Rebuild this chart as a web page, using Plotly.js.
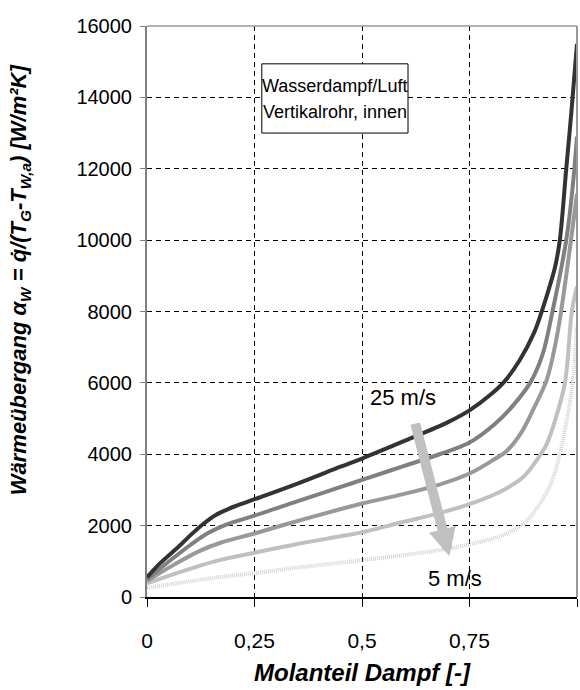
<!DOCTYPE html>
<html>
<head>
<meta charset="utf-8">
<script src="https://cdn.plot.ly/plotly-3.0.1.min.js"></script>
<style>html,body{margin:0;padding:0;background:#fff;}#chart{width:580px;height:690px;}</style>
</head>
<body>
<div id="chart"></div>
<script>
// Molanteil Dampf (x) and heat transfer coefficient (y) per gas velocity
const seriesNames = ['25 m/s', '20 m/s', '15 m/s', '10 m/s', '5 m/s'];

const x25 = [0, 0.03, 0.077, 0.1, 0.13, 0.16, 0.19, 0.22, 0.25, 0.35, 0.45, 0.5, 0.6, 0.7, 0.75, 0.8, 0.83, 0.867, 0.9, 0.918, 0.94, 0.95, 0.96, 0.975, 0.987, 1];
const y25 = [550, 940, 1450, 1720, 2040, 2300, 2470, 2610, 2740, 3180, 3650, 3880, 4380, 4900, 5230, 5680, 6020, 6640, 7400, 8000, 8850, 9300, 10000, 12000, 13600, 15500];

const x20 = [0, 0.062, 0.1, 0.14, 0.18, 0.22, 0.25, 0.347, 0.449, 0.5, 0.6, 0.68, 0.75, 0.809, 0.85, 0.891, 0.92, 0.943, 0.975, 0.99, 1];
const y20 = [500, 1100, 1450, 1780, 2010, 2170, 2280, 2670, 3080, 3280, 3680, 4000, 4330, 4850, 5350, 6000, 6800, 8000, 10000, 11500, 12900];

const x15 = [0, 0.062, 0.124, 0.171, 0.25, 0.347, 0.449, 0.5, 0.588, 0.68, 0.75, 0.8, 0.837, 0.87, 0.9, 0.93, 0.95, 0.963, 0.986, 1];
const y15 = [450, 900, 1300, 1520, 1780, 2120, 2460, 2620, 2860, 3150, 3460, 3800, 4100, 4600, 5300, 6100, 7100, 8000, 10000, 11300];

const x10 = [0, 0.062, 0.124, 0.171, 0.25, 0.347, 0.449, 0.5, 0.588, 0.68, 0.75, 0.82, 0.875, 0.91, 0.93, 0.949, 0.972, 0.988, 1];
const y10 = [380, 640, 880, 1040, 1240, 1480, 1700, 1810, 2080, 2350, 2600, 2940, 3360, 3900, 4300, 4950, 6000, 8000, 8700];

const x5 = [0, 0.062, 0.171, 0.25, 0.347, 0.449, 0.5, 0.6, 0.705, 0.75, 0.8, 0.837, 0.88, 0.914, 0.94, 0.96, 0.976, 0.99, 1];
const y5 = [250, 370, 560, 670, 820, 960, 1030, 1180, 1360, 1480, 1620, 1780, 2100, 2620, 3200, 4000, 4950, 6000, 7600];

const xTickVals = [0, 0.25, 0.5, 0.75, 1];
const xTickText = ['0', '0,25', '0,5', '0,75', '1'];
const yTickVals = [0, 2000, 4000, 6000, 8000, 10000, 12000, 14000, 16000];
const yTickText = ['0', '2000', '4000', '6000', '8000', '10000', '12000', '14000', '16000'];

const xs = [x25, x20, x15, x10, x5];
const ys = [y25, y20, y15, y10, y5];
const colors = ['#333333', '#808080', '#999999', '#c0c0c0', '#d4d4d4'];
const dashes = ['solid', 'solid', 'solid', 'solid', '1px,1px'];

const FONT = 'Liberation Sans, Arial, sans-serif';

const traces = xs.map((x, i) => ({
  x: x, y: ys[i], name: seriesNames[i], type: 'scatter', mode: 'lines',
  line: {color: colors[i], width: 4, shape: 'spline', smoothing: 1, dash: dashes[i]},
  hoverinfo: 'skip'
})).reverse();

const layout = {
  width: 580, height: 690,
  margin: {l: 147, r: 3, t: 26, b: 93},
  paper_bgcolor: '#ffffff', plot_bgcolor: '#ffffff',
  showlegend: false,
  font: {family: FONT, size: 20, color: '#000'},
  xaxis: {
    range: [0, 1], tickvals: xTickVals, ticktext: xTickText,
    showgrid: true, gridcolor: '#000', gridwidth: 1, griddash: '5px,4px',
    zeroline: false, showline: true, linecolor: '#000', linewidth: 2,
    ticks: 'outside', ticklen: 8, tickcolor: '#000', tickwidth: 1,
    ticklabelstandoff: 16,
    tickfont: {family: FONT, size: 21, color: '#000'}
  },
  yaxis: {
    range: [0, 16000], tickvals: yTickVals, ticktext: yTickText,
    showgrid: true, gridcolor: '#000', gridwidth: 1, griddash: '5px,4px',
    zeroline: false, showline: true, linecolor: '#808080', linewidth: 2,
    ticks: 'outside', ticklen: 5, tickcolor: '#808080', tickwidth: 1,
    ticklabelstandoff: 4,
    tickfont: {family: FONT, size: 20, color: '#000'}
  },
  shapes: [
    {type: 'line', xref: 'paper', yref: 'paper', x0: 0, x1: 1, y0: 1, y1: 1, line: {color: '#9a9a9a', width: 1.5}},
    {type: 'line', xref: 'paper', yref: 'paper', x0: 1, x1: 1, y0: 0, y1: 1, line: {color: '#9a9a9a', width: 2}},
    {type: 'rect', xref: 'x', yref: 'y', x0: 0.267, x1: 0.607, y0: 13000, y1: 14940, layer: 'above',
     fillcolor: '#ffffff', line: {color: '#000', width: 1}}
  ],
  annotations: [
    {xref: 'x', yref: 'y', x: 0.437, y: 14330, text: 'Wasserdampf/Luft', showarrow: false,
     font: {family: FONT, size: 18, color: '#000'}, xanchor: 'center', yanchor: 'middle'},
    {xref: 'x', yref: 'y', x: 0.437, y: 13600, text: 'Vertikalrohr, innen', showarrow: false,
     font: {family: FONT, size: 18, color: '#000'}, xanchor: 'center', yanchor: 'middle'},
    {xref: 'x', yref: 'y', x: 0.595, y: 5600, text: '25 m/s', showarrow: false,
     font: {family: FONT, size: 22, color: '#000'}, xanchor: 'center', yanchor: 'middle'},
    {xref: 'x', yref: 'y', x: 0.716, y: 520, text: '5 m/s', showarrow: false,
     font: {family: FONT, size: 22, color: '#000'}, xanchor: 'center', yanchor: 'middle'},
    {xref: 'x', yref: 'y', x: 0.703, y: 1150, axref: 'x', ayref: 'y', ax: 0.623, ay: 4900,
     text: '', showarrow: true, arrowhead: 2, arrowsize: 0.55, arrowwidth: 10, arrowcolor: '#c0c0c0'},
    {xref: 'paper', yref: 'paper', x: -0.295, y: 0.555, textangle: -90, showarrow: false,
     xanchor: 'center', yanchor: 'middle',
     text: '<b><i>Wärmeübergang α<sub>W</sub> = q̇/(T<sub>G</sub>-T<sub>W,a</sub>) [W/m²K]</i></b>',
     font: {family: FONT, size: 22, color: '#000'}},
    {xref: 'paper', yref: 'paper', x: 0.5, y: -0.133, showarrow: false,
     xanchor: 'center', yanchor: 'middle',
     text: '<b><i>Molanteil Dampf [-]</i></b>',
     font: {family: FONT, size: 24, color: '#000'}}
  ]
};

Plotly.newPlot('chart', traces, layout, {staticPlot: true, displayModeBar: false});
</script>
</body>
</html>
